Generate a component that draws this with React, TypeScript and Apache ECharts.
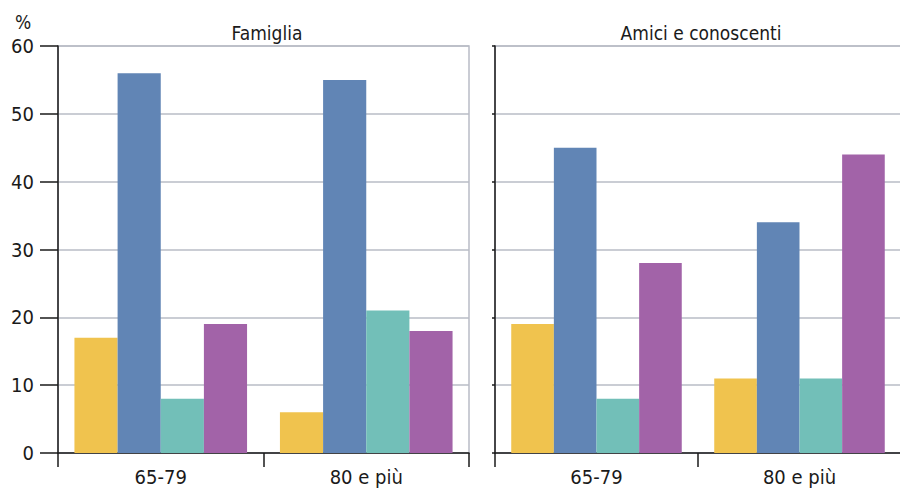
import React, { useEffect, useRef } from "react";
import * as echarts from "echarts";

const panels = ["Famiglia", "Amici e conoscenti"];
const ageGroups = ["65-79", "80 e più"];
const seriesNames = ["Serie A", "Serie B", "Serie C", "Serie D"];
const colors = ["#F0C34E", "#6185B5", "#72BFB8", "#A263A8"];
// values per panel, per series: [65-79, 80 e più]
const famiglia = [
  [17, 6],
  [56, 55],
  [8, 21],
  [19, 18],
];
const amici = [
  [19, 11],
  [45, 34],
  [8, 11],
  [28, 44],
];
const yTicks = { min: 0, max: 60, interval: 10 };

const FONT = "'Liberation Sans Narrow', 'DejaVu Sans Condensed', 'Roboto', sans-serif";

export default function App() {
  const ref = useRef<HTMLDivElement>(null);
  useEffect(() => {
    if (!ref.current) return;
    const chart = echarts.init(ref.current, null, { renderer: "svg" });
    const grids = [
      { left: 58, top: 46, width: 411, height: 407 },
      { left: 495, top: 46, width: 406, height: 407 },
    ];
    const panelData = [famiglia, amici];
    const series: any[] = [];
    panelData.forEach((pd, gi) => {
      pd.forEach((vals, si) => {
        series.push({
          type: "bar",
          name: seriesNames[si],
          xAxisIndex: gi,
          yAxisIndex: gi,
          data: vals,
          barGap: "0%",
          barCategoryGap: "16%",
          itemStyle: { color: colors[si] },
          emphasis: { disabled: true },
        });
      });
    });
    chart.setOption({
      animation: false,
      textStyle: { fontFamily: FONT },
      title: [
        {
          text: panels[0],
          left: 262,
          top: 18,
          textAlign: "center",
          textStyle: { fontFamily: FONT, fontSize: 19, fontWeight: "normal", color: "#1a1a1a" },
        },
        {
          text: panels[1],
          left: 696,
          top: 18,
          textAlign: "center",
          textStyle: { fontFamily: FONT, fontSize: 19, fontWeight: "normal", color: "#1a1a1a" },
        },
      ],
      graphic: [
        {
          type: "text",
          left: 15,
          top: 12,
          style: { text: "%", font: `19px ${FONT}`, fill: "#1a1a1a" },
        },
      ],
      grid: grids.map((g) => ({
        ...g,
        outerBoundsMode: "none",
        containLabel: false,
        show: true,
        borderColor: "#b9bcc6",
        borderWidth: 1.5,
        backgroundColor: "transparent",
      })),
      xAxis: [0, 1].map((gi) => ({
        type: "category",
        gridIndex: gi,
        data: ageGroups,
        axisLine: { show: true, lineStyle: { color: "#1a1a1a", width: 1.5 } },
        axisTick: { show: true, length: 14, lineStyle: { color: "#1a1a1a", width: 1.5 } },
        axisLabel: { fontFamily: FONT, fontSize: 20, color: "#1a1a1a", margin: 14 },
        splitLine: { show: false },
      })),
      yAxis: [0, 1].map((gi) => ({
        type: "value",
        gridIndex: gi,
        min: yTicks.min,
        max: yTicks.max,
        interval: yTicks.interval,
        axisLine: { show: true, lineStyle: { color: "#1a1a1a", width: 1.5 } },
        axisTick: {
          show: true,
          length: gi === 0 ? 18 : 3,
          lineStyle: { color: "#1a1a1a", width: 1.5 },
        },
        axisLabel: {
          show: gi === 0,
          fontFamily: FONT,
          fontSize: 20,
          color: "#1a1a1a",
          margin: 24,
        },
        splitLine: { show: true, lineStyle: { color: "#b9bcc6", width: 1.5 } },
      })),
      series,
    });
    return () => chart.dispose();
  }, []);
  return (
    <div
      ref={ref}
      style={{ position: "fixed", left: 0, top: 0, width: 900, height: 490, background: "#fff" }}
    />
  );
}
